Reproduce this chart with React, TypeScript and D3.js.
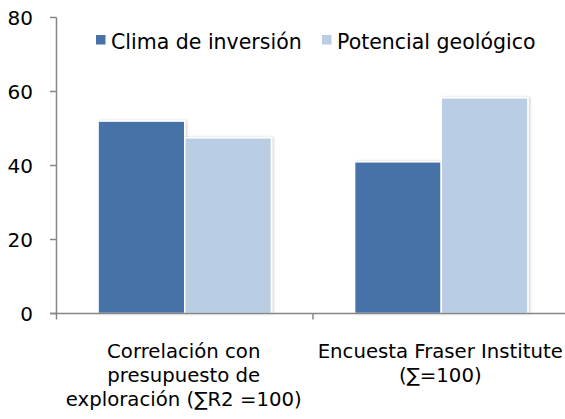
import React from "react";
import * as d3 from "d3";

const categories = ["Correlación con presupuesto de exploración (∑R2 =100)", "Encuesta Fraser Institute (∑=100)"];
const categoryLines = [
  ["Correlación con", "presupuesto de", "exploración (∑R2 =100)"],
  ["Encuesta Fraser Institute", "(∑=100)"],
];
const seriesNames = ["Clima de inversión", "Potencial geológico"];
const climaValues = [52, 41];
const potencialValues = [47.5, 58.3];
const yTicks = [0, 20, 40, 60, 80];

const W = 565;
const H = 419;
const colors = ["#4672A8", "#B9CDE5"];
const FONT = "'DejaVu Sans', sans-serif";

export default function App() {
  const y = d3.scaleLinear().domain([0, 80]).range([313.5, 17.5]);
  const x0 = d3.scaleBand<string>().domain(categories).range([56.5, 569.5]).paddingInner(0).paddingOuter(0);
  const x1 = d3.scaleBand<string>().domain(seriesNames).range([0, x0.bandwidth()]).paddingInner(0).paddingOuter(0.48);
  const series = [climaValues, potencialValues];

  return (
    <svg width={W} height={H} style={{ position: "absolute", left: 0, top: 0, background: "#fff" }} fontFamily={FONT}>
      <defs>
        <filter id="sh" x="-10%" y="-10%" width="130%" height="130%">
          <feDropShadow dx="1.5" dy="0" stdDeviation="1.2" floodColor="#000" floodOpacity="0.18" />
        </filter>
      </defs>
      {/* bars */}
      {categories.map((c, ci) =>
        seriesNames.map((s, si) => {
          const v = series[si][ci];
          const bx = (x0(c) as number) + (x1(s) as number);
          return (
            <rect
              key={c + s}
              x={bx}
              y={y(v)}
              width={x1.bandwidth()}
              height={y(0) - y(v)}
              fill={colors[si]}
              stroke="#fff"
              strokeWidth={1.5}
              filter="url(#sh)"
            />
          );
        })
      )}
      {/* y axis */}
      <line x1={56.5} x2={56.5} y1={y(80)} y2={y(0)} stroke="#868686" strokeWidth={1.5} />
      {yTicks.map((t) => (
        <g key={t}>
          <line x1={50} x2={56.5} y1={y(t)} y2={y(t)} stroke="#868686" strokeWidth={1.5} />
          <text x={33} y={y(t)} dy="0.36em" textAnchor="end" fontSize={20} fill="#000">
            {t}
          </text>
        </g>
      ))}
      {/* x axis */}
      <line x1={50} x2={W} y1={y(0)} y2={y(0)} stroke="#868686" strokeWidth={1.5} />
      {categories.map((c) => (
        <line key={c} x1={x0(c) as number} x2={x0(c) as number} y1={y(0)} y2={y(0) + 6} stroke="#868686" strokeWidth={1.5} />
      ))}
      {categories.map((c, ci) => {
        const cx = (x0(c) as number) + x0.bandwidth() / 2 - 1;
        return (
          <text key={c} x={cx} textAnchor="middle" fontSize={19.7} fill="#000">
            {categoryLines[ci].map((ln, li) => (
              <tspan key={li} x={cx} y={358 + li * 24}>
                {ln}
              </tspan>
            ))}
          </text>
        );
      })}
      {/* legend */}
      {seriesNames.map((s, si) => {
        const lx = si === 0 ? 96 : 322;
        return (
          <g key={s}>
            <rect x={lx} y={35} width={9.5} height={9.5} fill={colors[si]} />
            <text x={lx + 15} y={49} fontSize={20.5} fill="#000">
              {s}
            </text>
          </g>
        );
      })}
    </svg>
  );
}
